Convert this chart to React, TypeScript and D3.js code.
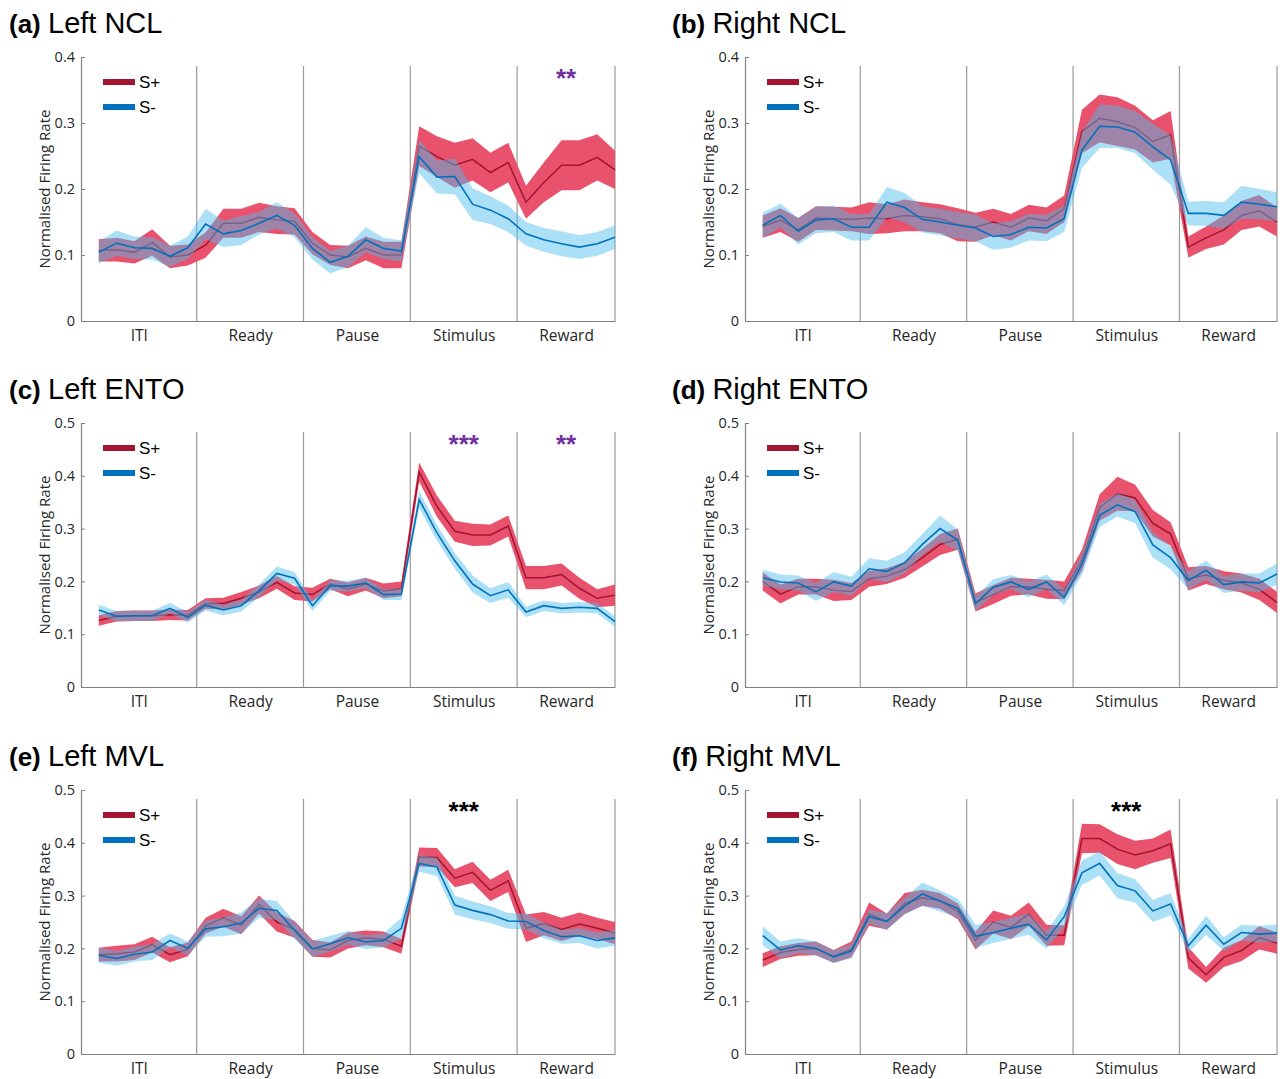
import { useRef, useEffect } from "react";
import * as d3 from "d3";

// epochs of the trial, 6 time bins each
const epochs = ["ITI", "Ready", "Pause", "Stimulus", "Reward"];
const binsPerEpoch = 6;
const seriesNames = ["S+", "S-"];

// (a) Left NCL
const leftNclPlus = [0.107, 0.108, 0.104, 0.119, 0.097, 0.1, 0.115, 0.148, 0.148, 0.157, 0.153, 0.151, 0.118, 0.1, 0.097, 0.11, 0.1, 0.1, 0.265, 0.249, 0.236, 0.245, 0.225, 0.24, 0.18, 0.21, 0.236, 0.236, 0.248, 0.229];
const leftNclPlusErr = [0.017, 0.018, 0.017, 0.02, 0.017, 0.016, 0.019, 0.022, 0.022, 0.022, 0.021, 0.02, 0.017, 0.015, 0.017, 0.018, 0.02, 0.02, 0.03, 0.031, 0.034, 0.032, 0.03, 0.03, 0.025, 0.03, 0.038, 0.038, 0.035, 0.029];
const leftNclMinus = [0.104, 0.118, 0.111, 0.11, 0.098, 0.111, 0.147, 0.132, 0.137, 0.148, 0.16, 0.145, 0.11, 0.089, 0.098, 0.123, 0.11, 0.106, 0.249, 0.218, 0.219, 0.177, 0.168, 0.155, 0.132, 0.123, 0.117, 0.112, 0.117, 0.127];
const leftNclMinusErr = [0.017, 0.019, 0.017, 0.017, 0.016, 0.017, 0.023, 0.02, 0.022, 0.017, 0.02, 0.018, 0.017, 0.017, 0.016, 0.019, 0.016, 0.016, 0.025, 0.025, 0.027, 0.024, 0.021, 0.02, 0.018, 0.018, 0.019, 0.018, 0.018, 0.018];

// (b) Right NCL
const rightNclPlus = [0.143, 0.153, 0.138, 0.156, 0.155, 0.154, 0.156, 0.155, 0.16, 0.158, 0.155, 0.146, 0.142, 0.15, 0.142, 0.156, 0.152, 0.17, 0.287, 0.307, 0.302, 0.293, 0.272, 0.282, 0.112, 0.126, 0.138, 0.16, 0.167, 0.15];
const rightNclPlusErr = [0.017, 0.018, 0.018, 0.018, 0.018, 0.018, 0.024, 0.022, 0.024, 0.022, 0.022, 0.025, 0.022, 0.02, 0.02, 0.02, 0.02, 0.02, 0.033, 0.036, 0.037, 0.033, 0.032, 0.036, 0.016, 0.017, 0.022, 0.022, 0.024, 0.022];
const rightNclMinus = [0.145, 0.16, 0.136, 0.153, 0.155, 0.142, 0.142, 0.18, 0.172, 0.154, 0.15, 0.145, 0.141, 0.128, 0.131, 0.142, 0.141, 0.155, 0.259, 0.295, 0.294, 0.286, 0.264, 0.244, 0.163, 0.163, 0.16, 0.18, 0.177, 0.173];
const rightNclMinusErr = [0.019, 0.018, 0.02, 0.02, 0.02, 0.02, 0.02, 0.023, 0.022, 0.02, 0.02, 0.02, 0.02, 0.02, 0.02, 0.02, 0.02, 0.02, 0.027, 0.033, 0.032, 0.032, 0.035, 0.037, 0.018, 0.019, 0.02, 0.025, 0.023, 0.022];

// (c) Left ENTO
const leftEntoPlus = [0.126, 0.134, 0.135, 0.135, 0.137, 0.136, 0.158, 0.158, 0.168, 0.18, 0.198, 0.178, 0.175, 0.195, 0.185, 0.195, 0.182, 0.186, 0.407, 0.342, 0.295, 0.288, 0.288, 0.305, 0.207, 0.207, 0.213, 0.187, 0.168, 0.174];
const leftEntoPlusErr = [0.01, 0.01, 0.01, 0.01, 0.01, 0.01, 0.01, 0.011, 0.012, 0.012, 0.012, 0.013, 0.013, 0.01, 0.013, 0.012, 0.014, 0.014, 0.018, 0.02, 0.02, 0.021, 0.02, 0.02, 0.022, 0.022, 0.021, 0.02, 0.017, 0.02];
const leftEntoMinus = [0.146, 0.134, 0.135, 0.135, 0.149, 0.132, 0.155, 0.146, 0.154, 0.182, 0.215, 0.206, 0.154, 0.192, 0.191, 0.197, 0.175, 0.176, 0.355, 0.292, 0.239, 0.195, 0.173, 0.184, 0.142, 0.154, 0.149, 0.151, 0.149, 0.124];
const leftEntoMinusErr = [0.01, 0.01, 0.01, 0.01, 0.01, 0.01, 0.01, 0.01, 0.011, 0.012, 0.013, 0.012, 0.01, 0.01, 0.01, 0.01, 0.01, 0.011, 0.016, 0.015, 0.015, 0.016, 0.014, 0.015, 0.01, 0.01, 0.01, 0.01, 0.01, 0.01];

// (d) Right ENTO
const rightEntoPlus = [0.2, 0.176, 0.19, 0.19, 0.183, 0.181, 0.205, 0.21, 0.222, 0.245, 0.27, 0.28, 0.16, 0.175, 0.19, 0.19, 0.185, 0.183, 0.24, 0.34, 0.366, 0.358, 0.31, 0.29, 0.205, 0.212, 0.202, 0.197, 0.185, 0.16];
const rightEntoPlusErr = [0.017, 0.018, 0.015, 0.015, 0.02, 0.016, 0.015, 0.015, 0.015, 0.017, 0.02, 0.02, 0.017, 0.018, 0.017, 0.015, 0.018, 0.017, 0.02, 0.025, 0.032, 0.025, 0.025, 0.022, 0.022, 0.017, 0.017, 0.018, 0.02, 0.02];
const rightEntoMinus = [0.207, 0.199, 0.197, 0.18, 0.199, 0.191, 0.224, 0.219, 0.235, 0.27, 0.3, 0.278, 0.158, 0.189, 0.199, 0.185, 0.199, 0.17, 0.232, 0.325, 0.345, 0.332, 0.269, 0.245, 0.202, 0.221, 0.194, 0.199, 0.197, 0.214];
const rightEntoMinusErr = [0.015, 0.014, 0.014, 0.017, 0.019, 0.018, 0.02, 0.02, 0.02, 0.02, 0.025, 0.02, 0.014, 0.015, 0.013, 0.015, 0.014, 0.015, 0.02, 0.022, 0.022, 0.022, 0.024, 0.022, 0.017, 0.018, 0.016, 0.016, 0.018, 0.02];

// (e) Left MVL
const leftMvlPlus = [0.188, 0.19, 0.193, 0.207, 0.188, 0.198, 0.243, 0.258, 0.244, 0.283, 0.25, 0.236, 0.2, 0.197, 0.215, 0.22, 0.217, 0.204, 0.373, 0.372, 0.333, 0.344, 0.31, 0.328, 0.238, 0.247, 0.236, 0.246, 0.238, 0.229];
const leftMvlPlusErr = [0.013, 0.015, 0.015, 0.015, 0.014, 0.013, 0.015, 0.017, 0.017, 0.017, 0.018, 0.016, 0.016, 0.014, 0.015, 0.014, 0.015, 0.014, 0.018, 0.018, 0.017, 0.02, 0.02, 0.021, 0.026, 0.022, 0.022, 0.022, 0.02, 0.021];
const leftMvlMinus = [0.187, 0.181, 0.189, 0.193, 0.215, 0.2, 0.237, 0.241, 0.248, 0.276, 0.272, 0.234, 0.199, 0.209, 0.22, 0.212, 0.215, 0.238, 0.361, 0.354, 0.282, 0.272, 0.264, 0.252, 0.251, 0.234, 0.222, 0.224, 0.215, 0.22];
const leftMvlMinusErr = [0.014, 0.014, 0.014, 0.015, 0.013, 0.013, 0.015, 0.018, 0.02, 0.018, 0.018, 0.016, 0.015, 0.015, 0.013, 0.013, 0.013, 0.02, 0.016, 0.017, 0.018, 0.017, 0.016, 0.015, 0.015, 0.015, 0.013, 0.014, 0.015, 0.015];

// (f) Right MVL
const rightMvlPlus = [0.178, 0.192, 0.198, 0.2, 0.185, 0.198, 0.265, 0.251, 0.285, 0.296, 0.29, 0.27, 0.215, 0.25, 0.24, 0.265, 0.225, 0.225, 0.408, 0.408, 0.388, 0.377, 0.385, 0.398, 0.182, 0.15, 0.183, 0.196, 0.22, 0.21];
const rightMvlPlusErr = [0.013, 0.012, 0.012, 0.013, 0.012, 0.015, 0.022, 0.015, 0.02, 0.015, 0.015, 0.015, 0.017, 0.022, 0.022, 0.022, 0.02, 0.019, 0.028, 0.027, 0.028, 0.027, 0.023, 0.027, 0.02, 0.015, 0.018, 0.02, 0.022, 0.02];
const rightMvlMinus = [0.224, 0.197, 0.205, 0.2, 0.184, 0.195, 0.26, 0.251, 0.28, 0.303, 0.29, 0.276, 0.223, 0.23, 0.238, 0.246, 0.216, 0.26, 0.343, 0.361, 0.319, 0.309, 0.271, 0.284, 0.205, 0.244, 0.208, 0.23, 0.227, 0.229];
const rightMvlMinusErr = [0.018, 0.016, 0.014, 0.013, 0.012, 0.013, 0.013, 0.016, 0.016, 0.022, 0.02, 0.018, 0.022, 0.02, 0.02, 0.02, 0.016, 0.02, 0.023, 0.023, 0.024, 0.022, 0.021, 0.021, 0.013, 0.018, 0.013, 0.015, 0.016, 0.016];

const panels = [
  { letter: "(a)", name: "Left NCL", yMax: 0.4, plus: leftNclPlus, plusErr: leftNclPlusErr, minus: leftNclMinus, minusErr: leftNclMinusErr, stars: [{ epoch: "Reward", text: "**", sig: "lat" }] },
  { letter: "(b)", name: "Right NCL", yMax: 0.4, plus: rightNclPlus, plusErr: rightNclPlusErr, minus: rightNclMinus, minusErr: rightNclMinusErr, stars: [] },
  { letter: "(c)", name: "Left ENTO", yMax: 0.5, plus: leftEntoPlus, plusErr: leftEntoPlusErr, minus: leftEntoMinus, minusErr: leftEntoMinusErr, stars: [{ epoch: "Stimulus", text: "***", sig: "lat" }, { epoch: "Reward", text: "**", sig: "lat" }] },
  { letter: "(d)", name: "Right ENTO", yMax: 0.5, plus: rightEntoPlus, plusErr: rightEntoPlusErr, minus: rightEntoMinus, minusErr: rightEntoMinusErr, stars: [] },
  { letter: "(e)", name: "Left MVL", yMax: 0.5, plus: leftMvlPlus, plusErr: leftMvlPlusErr, minus: leftMvlMinus, minusErr: leftMvlMinusErr, stars: [{ epoch: "Stimulus", text: "***", sig: "main" }] },
  { letter: "(f)", name: "Right MVL", yMax: 0.5, plus: rightMvlPlus, plusErr: rightMvlPlusErr, minus: rightMvlMinus, minusErr: rightMvlMinusErr, stars: [{ epoch: "Stimulus", text: "***", sig: "main" }] },
];

const W = 1285;
const H = 1079;
const FONT = "'Liberation Sans', Arial, sans-serif";
const AXFONT = "'Open Sans', 'Liberation Sans', sans-serif";
const TXT = "#262626";

function App() {
  const svgRef = useRef(null);

  useEffect(() => {
    const svg = d3.select(svgRef.current);
    svg.selectAll("*").remove();

    const colLeft = [81, 745];
    const colWidth = [534, 532];
    const rowTop = [57, 423, 790];
    const plotH = 264;
    const nBins = epochs.length * binsPerEpoch;
    const edges = d3.range(epochs.length + 1).map((k) => (k === 0 ? -1 : k * binsPerEpoch - 0.5));
    edges[epochs.length] = nBins - 1;

    panels.forEach((p, pi) => {
      const col = pi % 2;
      const row = Math.floor(pi / 2);
      const w = colWidth[col];
      const g = svg.append("g").attr("transform", `translate(${colLeft[col]},${rowTop[row]})`);

      const x = d3.scaleLinear().domain([-1, nBins - 1]).range([0, w]);
      const y = d3.scaleLinear().domain([0, p.yMax]).range([plotH, 0]);

      // title
      const title = svg
        .append("text")
        .attr("x", col === 0 ? 9 : 672)
        .attr("y", rowTop[row] - 24)
        .attr("font-family", FONT)
        .attr("fill", "#000");
      title.append("tspan").attr("font-weight", "bold").attr("font-size", 26).text(p.letter + " ");
      title.append("tspan").attr("font-size", 29).text(p.name);

      // epoch dividers
      g.selectAll(".div")
        .data(edges.slice(1))
        .join("line")
        .attr("x1", (d) => x(d))
        .attr("x2", (d) => x(d))
        .attr("y1", y(0))
        .attr("y2", y(p.yMax) + 9)
        .attr("stroke", "#9a9a9a")
        .attr("stroke-width", 1.2);

      // bands & means
      const area = (m, e) =>
        d3
          .area()
          .x((_, i) => x(i))
          .y0((d, i) => y(m[i] - e[i]))
          .y1((d, i) => y(m[i] + e[i]))(m);
      const line = (m) =>
        d3
          .line()
          .x((_, i) => x(i))
          .y((d) => y(d))(m);

      g.append("path").attr("d", area(p.plus, p.plusErr)).attr("fill", "#e8526c");
      g.append("path").attr("d", line(p.plus)).attr("fill", "none").attr("stroke", "#a2142f").attr("stroke-width", 1.5);
      g.append("path").attr("d", area(p.minus, p.minusErr)).attr("fill", "#4dbeee").attr("fill-opacity", 0.47);
      g.append("path").attr("d", line(p.minus)).attr("fill", "none").attr("stroke", "#0072bd").attr("stroke-width", 1.6);

      // y axis
      const yAxis = g
        .append("g")
        .call(
          d3
            .axisLeft(y)
            .tickValues(d3.range(0, p.yMax + 0.001, 0.1))
            .tickFormat((d) => (d === 0 ? "0" : d3.format(".1f")(d)))
            .tickSizeInner(-4)
            .tickSizeOuter(0)
            .tickPadding(6)
        );
      yAxis.select(".domain").attr("stroke", "#808080").attr("stroke-width", 1.2);
      yAxis.selectAll(".tick line").attr("stroke", "#808080");
      yAxis.selectAll(".tick text").attr("font-family", AXFONT).attr("font-size", 14.5).attr("fill", TXT);

      // x axis
      const centers = epochs.map((_, k) => (edges[k] + edges[k + 1]) / 2);
      const xAxis = g
        .append("g")
        .attr("transform", `translate(0,${plotH})`)
        .call(
          d3
            .axisBottom(x)
            .tickValues(centers)
            .tickFormat((_, i) => epochs[i])
            .tickSize(0)
            .tickPadding(9)
        );
      xAxis.select(".domain").attr("stroke", "#808080").attr("stroke-width", 1.2);
      xAxis.selectAll(".tick text").attr("font-family", AXFONT).attr("font-size", 15.5).attr("fill", TXT);

      // y label
      g.append("text")
        .attr("transform", `translate(-36,${plotH / 2}) rotate(-90)`)
        .attr("text-anchor", "middle")
        .attr("dy", "0.35em")
        .attr("font-family", AXFONT)
        .attr("font-size", 15)
        .attr("fill", TXT)
        .text("Normalised Firing Rate");

      // legend
      const legColors = ["#a2142f", "#0072bd"];
      seriesNames.forEach((s, si) => {
        const ly = 25 + si * 25;
        g.append("line")
          .attr("x1", 22)
          .attr("x2", 54)
          .attr("y1", ly)
          .attr("y2", ly)
          .attr("stroke", legColors[si])
          .attr("stroke-width", 6);
        g.append("text")
          .attr("x", 58)
          .attr("y", ly)
          .attr("dy", "0.36em")
          .attr("font-family", FONT)
          .attr("font-size", 17)
          .attr("fill", "#000")
          .text(s);
      });

      // significance stars
      p.stars.forEach((st) => {
        const k = epochs.indexOf(st.epoch);
        g.append("text")
          .attr("x", x(centers[k]))
          .attr("y", y(p.yMax) + 30)
          .attr("text-anchor", "middle")
          .attr("font-family", FONT)
          .attr("font-weight", "bold")
          .attr("font-size", 26)
          .attr("fill", st.sig === "lat" ? "#7030a0" : "#000")
          .text(st.text);
      });
    });
  }, []);

  return (
    <svg
      ref={svgRef}
      width={W}
      height={H}
      style={{ position: "absolute", left: 0, top: 0, background: "#fff" }}
    />
  );
}

export default App;
